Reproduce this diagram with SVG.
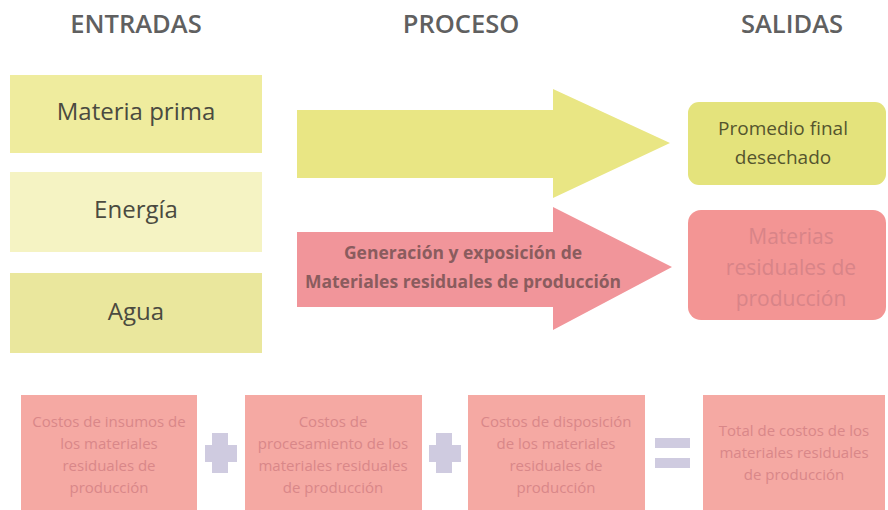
<svg xmlns="http://www.w3.org/2000/svg" width="888" height="510" viewBox="0 0 888 510">
<style>
text{font-family:"Open Sans","Liberation Sans",sans-serif;text-anchor:middle}
.hd{font-size:25.5px;font-weight:600;fill:#606060}
.in{font-size:24px;fill:#4a4a40}
.ar{font-size:17.5px;font-weight:700;fill:#8a5c5e}
.pf{font-size:19px;fill:#55552e}
.mr{font-size:21px;fill:#d88488}
.bt{font-size:15px;fill:#d98789}
.bx{fill:#f5a9a3}
.op{fill:#cfcbe0}
</style>
<rect width="888" height="510" fill="#ffffff"/>
<g id="headers">
<text class="hd" x="136" y="33">ENTRADAS</text>
<text class="hd" x="461" y="33">PROCESO</text>
<text class="hd" x="792" y="33">SALIDAS</text>
</g>
<g id="materia-prima">
<rect x="10" y="75" width="252" height="78" fill="#efec9e"/>
<text class="in" x="136" y="120">Materia prima</text>
</g>
<g id="energia">
<rect x="10" y="172" width="252" height="80" fill="#f5f3c3"/>
<text class="in" x="136" y="218">Energía</text>
</g>
<g id="agua">
<rect x="10" y="273" width="252" height="80" fill="#eae79d"/>
<text class="in" x="136" y="320">Agua</text>
</g>
<g id="connectors">
<polygon id="arrow-yellow" points="297,110 553,110 553,89 670,143 553,198 553,178 297,178" fill="#e9e684"/>
<g id="arrow-red">
<polygon points="297,232 553,232 553,207 672,267 553,330 553,307 297,307" fill="#f1959a"/>
<text class="ar" x="463" y="259">Generación y exposición de</text>
<text class="ar" x="463" y="288">Materiales residuales de producción</text>
</g>
</g>
<g id="promedio-final">
<rect x="688" y="102" width="198" height="83" rx="11" fill="#e4e37c"/>
<text class="pf" x="783" y="135">Promedio final</text>
<text class="pf" x="783" y="164">desechado</text>
</g>
<g id="materias-residuales">
<rect x="688" y="210" width="198" height="110" rx="13" fill="#f39594"/>
<text class="mr" x="791" y="244">Materias</text>
<text class="mr" x="791" y="275">residuales de</text>
<text class="mr" x="791" y="306">producción</text>
</g>
<g id="costos-insumos">
<rect class="bx" x="21" y="395" width="176" height="115"/>
<text class="bt" x="109" y="427">Costos de insumos de</text>
<text class="bt" x="109" y="449">los materiales</text>
<text class="bt" x="109" y="471">residuales de</text>
<text class="bt" x="109" y="493">producción</text>
</g>
<g id="plus-1">
<path class="op" d="M212,433h16v12h9v17h-9v11h-16v-11h-7v-17h7z"/>
</g>
<g id="costos-procesamiento">
<rect class="bx" x="245" y="395" width="177" height="115"/>
<text class="bt" x="333" y="427">Costos de</text>
<text class="bt" x="333" y="449">procesamiento de los</text>
<text class="bt" x="333" y="471">materiales residuales</text>
<text class="bt" x="333" y="493">de producción</text>
</g>
<g id="plus-2">
<path class="op" d="M436,433h16v12h9v17h-9v11h-16v-11h-7v-17h7z"/>
</g>
<g id="costos-disposicion">
<rect class="bx" x="468" y="395" width="177" height="115"/>
<text class="bt" x="556" y="427">Costos de disposición</text>
<text class="bt" x="556" y="449">de los materiales</text>
<text class="bt" x="556" y="471">residuales de</text>
<text class="bt" x="556" y="493">producción</text>
</g>
<g id="equals">
<rect class="op" x="655" y="438" width="35" height="10"/>
<rect class="op" x="655" y="458" width="35" height="10"/>
</g>
<g id="total-costos">
<rect class="bx" x="703" y="395" width="182" height="115"/>
<text class="bt" x="794" y="436">Total de costos de los</text>
<text class="bt" x="794" y="458">materiales residuales</text>
<text class="bt" x="794" y="480">de producción</text>
</g>
</svg>
